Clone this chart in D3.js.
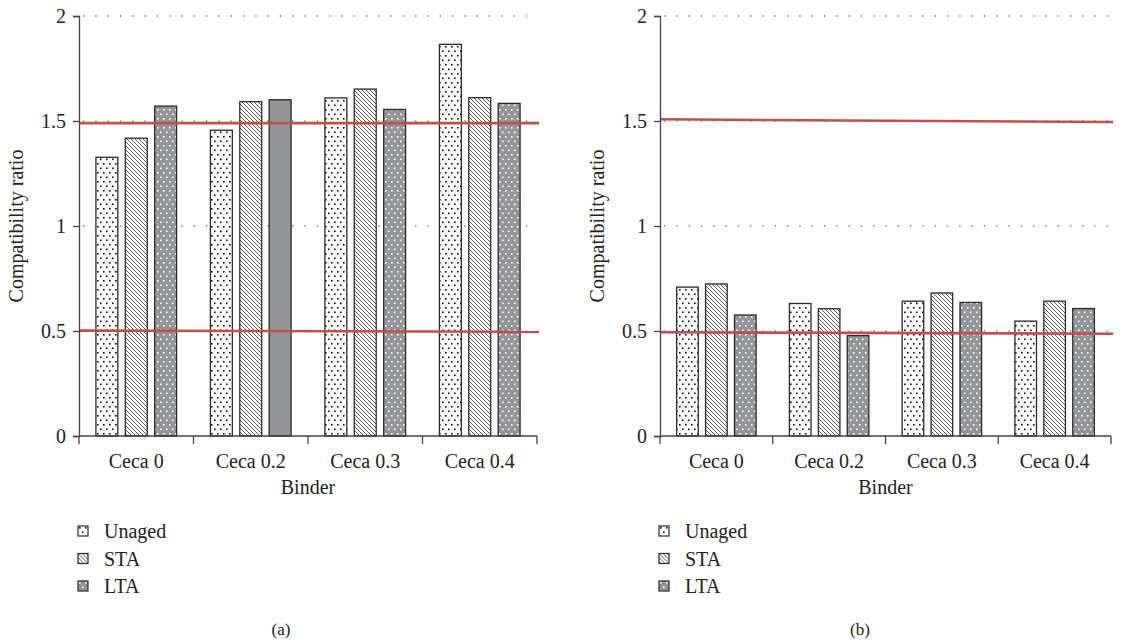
<!DOCTYPE html>
<html>
<head>
<meta charset="utf-8">
<script src="https://cdn.jsdelivr.net/npm/d3@7"></script>
<style>
  body { margin: 0; background: #fff; }
  text { font-family: "Liberation Serif", "DejaVu Serif", serif; fill: #222; }
</style>
</head>
<body>
<script>
// categories and series
var categories = ["Ceca 0", "Ceca 0.2", "Ceca 0.3", "Ceca 0.4"];
var series = ["Unaged", "STA", "LTA"];
var yTicks = [0, 0.5, 1, 1.5, 2];

// panel (a) values
var unagedA = [1.327, 1.456, 1.61, 1.865];
var staA = [1.418, 1.592, 1.652, 1.611];
var ltaA = [1.571, 1.601, 1.555, 1.584];

// panel (b) values
var unagedB = [0.709, 0.631, 0.642, 0.547];
var staB = [0.724, 0.606, 0.681, 0.642];
var ltaB = [0.576, 0.478, 0.636, 0.607];

// red limit lines [start, end]
var limitsA = [[1.49, 1.49], [0.502, 0.496]];
var limitsB = [[1.508, 1.495], [0.494, 0.487]];

var W = 1122, H = 642;
var svg = d3.select("body").append("svg").attr("width", W).attr("height", H);

// patterns
var defs = svg.append("defs");
var pDots = defs.append("pattern").attr("id", "dots").attr("patternUnits", "userSpaceOnUse")
  .attr("width", 6).attr("height", 9);
pDots.append("rect").attr("width", 6).attr("height", 9).attr("fill", "#fff");
pDots.append("rect").attr("x", 1).attr("y", 1).attr("width", 1.6).attr("height", 1.6).attr("fill", "#111");
pDots.append("rect").attr("x", 4).attr("y", 5.5).attr("width", 1.6).attr("height", 1.6).attr("fill", "#111");

var pHatch = defs.append("pattern").attr("id", "hatch").attr("patternUnits", "userSpaceOnUse")
  .attr("width", 4).attr("height", 4);
pHatch.append("rect").attr("width", 4).attr("height", 4).attr("fill", "#fff");
pHatch.append("path").attr("d", "M-1,-1 L5,5 M-1,3 L1,5 M3,-1 L5,1")
  .attr("stroke", "#333").attr("stroke-width", 0.8);

var pGrey = defs.append("pattern").attr("id", "greydots").attr("patternUnits", "userSpaceOnUse")
  .attr("width", 6).attr("height", 9);
pGrey.append("rect").attr("width", 6).attr("height", 9).attr("fill", "#949599");
pGrey.append("rect").attr("x", 1).attr("y", 1).attr("width", 1.6).attr("height", 1.6).attr("fill", "#fff");
pGrey.append("rect").attr("x", 4).attr("y", 5.5).attr("width", 1.6).attr("height", 1.6).attr("fill", "#fff");

var fills = {"Unaged": "url(#dots)", "STA": "url(#hatch)", "LTA": "url(#greydots)"};

function drawPanel(opt) {
  var g = svg.append("g");
  var x = d3.scaleBand().domain(categories).range([opt.left, opt.right]).padding(0);
  var xs = d3.scaleBand().domain(series).range([0, x.bandwidth()])
    .paddingInner(0.254).paddingOuter(0.576);
  var y = d3.scaleLinear().domain([0, 2]).range([436, 16]);

  // dotted gridlines
  g.selectAll(".grid").data(yTicks.filter(function(d) { return d > 0; }))
    .enter().append("line")
    .attr("x1", opt.left + 4).attr("x2", opt.right)
    .attr("y1", function(d) { return y(d); }).attr("y2", function(d) { return y(d); })
    .attr("stroke", "#777").attr("stroke-width", 1.3)
    .attr("stroke-dasharray", "1.3,11");

  // bars
  var rows = [];
  categories.forEach(function(c, i) {
    series.forEach(function(s) {
      rows.push({cat: c, s: s, v: opt.values[s][i]});
    });
  });
  g.selectAll(".bar").data(rows).enter().append("rect")
    .attr("x", function(d) { return x(d.cat) + xs(d.s); })
    .attr("width", xs.bandwidth())
    .attr("y", function(d) { return y(d.v); })
    .attr("height", function(d) { return y(0) - y(d.v); })
    .attr("fill", function(d) {
      // the Ceca 0.2 LTA bar of panel (a) is drawn plain grey in the figure
      if (opt.solid && d.cat === opt.solid && d.s === "LTA") return "#949599";
      return fills[d.s];
    })
    .attr("stroke", "#2a2a2a").attr("stroke-width", 1.3);

  // red limit lines
  g.selectAll(".limit").data(opt.limits).enter().append("line")
    .attr("x1", opt.left).attr("x2", opt.right + 2)
    .attr("y1", function(d) { return y(d[0]); })
    .attr("y2", function(d) { return y(d[1]); })
    .attr("stroke", "#c0504d").attr("stroke-width", 2.6);

  // y axis
  var ya = g.append("g").attr("transform", "translate(" + opt.left + ",0)")
    .call(d3.axisLeft(y).tickValues(yTicks).tickSize(6).tickPadding(7)
      .tickFormat(function(d) { return d; }));
  ya.select(".domain").attr("stroke", "#444").attr("stroke-width", 1.3);
  ya.selectAll(".tick line").attr("stroke", "#444").attr("stroke-width", 1.3);
  ya.selectAll(".tick text").style("font-family", "Liberation Serif, serif")
    .style("font-size", "20px").attr("fill", "#222");

  // x axis line and boundary ticks
  g.append("line").attr("x1", opt.left).attr("x2", opt.right)
    .attr("y1", y(0)).attr("y2", y(0)).attr("stroke", "#444").attr("stroke-width", 1.3);
  var bounds = categories.map(function(c) { return x(c); }).concat([x.range()[1]]);
  g.selectAll(".xt").data(bounds).enter().append("line")
    .attr("x1", function(d) { return d; }).attr("x2", function(d) { return d; })
    .attr("y1", y(0)).attr("y2", y(0) + 8)
    .attr("stroke", "#444").attr("stroke-width", 1.3);
  g.selectAll(".xl").data(categories).enter().append("text")
    .attr("x", function(d) { return x(d) + x.bandwidth() / 2; })
    .attr("y", 468).attr("text-anchor", "middle")
    .style("font-size", "20px").text(function(d) { return d; });

  // axis titles
  g.append("text").attr("x", (opt.left + opt.right) / 2).attr("y", 494)
    .attr("text-anchor", "middle").style("font-size", "20px").text("Binder");
  g.append("text")
    .attr("transform", "translate(" + (opt.left - 56) + "," + y(1) + ") rotate(-90)")
    .attr("text-anchor", "middle").style("font-size", "20px").text("Compatibility ratio");

  // legend
  var lg = g.selectAll(".lg").data(series).enter().append("g")
    .attr("transform", function(d, i) { return "translate(" + (opt.left - 1) + "," + (526 + i * 27.5) + ")"; });
  lg.append("rect").attr("width", 10).attr("height", 10)
    .attr("fill", function(d) { return fills[d]; })
    .attr("stroke", "#2a2a2a").attr("stroke-width", 1.2);
  lg.append("text").attr("x", 26).attr("y", 12)
    .style("font-size", "20px").text(function(d) { return d; });

  // panel label
  g.append("text").attr("x", opt.labelX).attr("y", 635).attr("text-anchor", "middle")
    .style("font-size", "17px").text(opt.label);
}

drawPanel({
  left: 79, right: 537, label: "(a)", labelX: 281, solid: "Ceca 0.2",
  values: {"Unaged": unagedA, "STA": staA, "LTA": ltaA}, limits: limitsA
});
drawPanel({
  left: 660, right: 1111, label: "(b)", labelX: 860, solid: null,
  values: {"Unaged": unagedB, "STA": staB, "LTA": ltaB}, limits: limitsB
});
</script>
</body>
</html>
